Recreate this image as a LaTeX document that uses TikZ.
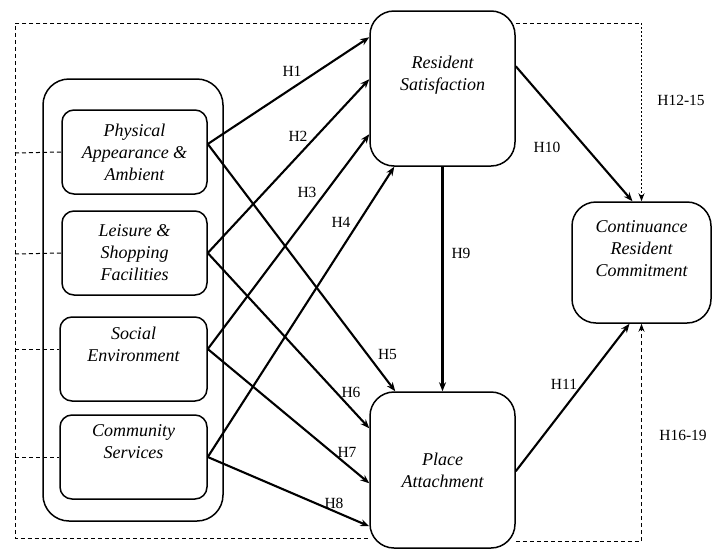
\documentclass[tikz,border=0pt]{standalone}
\usepackage{fontspec}
\setmainfont{Liberation Serif}
\usetikzlibrary{arrows.meta,calc}
\begin{document}
\begin{tikzpicture}[x=1pt,y=-1pt,
 box/.style={draw,line width=1.5pt,rounded corners=12pt,align=center,font=\fontsize{18}{22}\selectfont\itshape,inner sep=0pt},
 bigbox/.style={box,rounded corners=24pt},
 arr/.style={line width=2.1pt,-{Stealth[length=9pt,width=7pt]}},
 dsh/.style={line width=1pt,dash pattern=on 4pt off 3pt},
 dshf/.style={line width=1pt,dash pattern=on 2pt off 2pt},
 darr/.style={-{Stealth[length=8pt,width=6pt]}},
 hl/.style={font=\fontsize{15.5}{18}\selectfont,inner sep=0pt}]
\useasboundingbox (0,0) rectangle (712,552);
% group box
\node[draw,line width=1.5pt,rounded corners=26pt,minimum width=180pt,minimum height=442pt] (grp) at (133,300) {};
% antecedents
\node[box,minimum width=145pt,minimum height=84pt] (paa) at (134.5,152) {Physical\\Appearance \&\\Ambient};
\node[box,minimum width=145pt,minimum height=84pt] (lsf) at (134.5,253) {Leisure \&\\Shopping\\Facilities};
\node[box,minimum width=147pt,minimum height=84pt] (se) at (133.5,359) {Social\\Environment\\[8pt]};
\node[box,minimum width=147pt,minimum height=84pt] (cs) at (133.5,457) {Community\\Services\\[8pt]};
% mediators / outcome
\node[bigbox,minimum width=145pt,minimum height=155pt] (rs) at (442.5,88.5) {Resident\\Satisfaction\\[8pt]};
\node[bigbox,minimum width=145pt,minimum height=156pt] (pa) at (442.5,470) {Place\\Attachment};
\node[bigbox,minimum width=139pt,minimum height=121pt] (crc) at (641.5,262.5) {Continuance\\Resident\\Commitment\\[6pt]};
% ports
\coordinate (pP) at ($(paa.east)+(0,-8)$);
\coordinate (pS) at ($(se.east)+(0,-10)$);
% hypotheses H1-H8
\draw[arr] (pP) -- ($(rs.north west)+(0,27)$);
\draw[arr] (lsf.east) -- ($(rs.north west)+(0,69)$);
\draw[arr] (pS) -- ($(rs.north west)+(0,124)$);
\draw[arr] (cs.east) -- ($(rs.south west)+(25,0)$);
\draw[arr] (pP) -- ($(pa.north west)+(26,0)$);
\draw[arr] (lsf.east) -- ($(pa.north west)+(0,37)$);
\draw[arr] (pS) -- ($(pa.north west)+(0,92)$);
\draw[arr] (cs.east) -- ($(pa.north west)+(0,135)$);
% H9-H11
\draw[arr] (rs.south) -- (pa.north);
\draw[arr] ($(rs.north east)+(0,56)$) -- ($(crc.north)+(-9,0)$);
\draw[arr] ($(pa.north east)+(0,80)$) -- ($(crc.south)+(-12,0)$);
% dashed frame
\coordinate (ftl) at (15,23);
\coordinate (fbl) at (15,538);
\coordinate (fbr) at (642,541);
\draw[dsh] (rs.west |- ftl) -- (ftl) -- (fbl) -- (pa.west |- fbl);
\draw[dsh] (15,153) -- (paa.west);
\draw[dsh] (15,254) -- (paa.west |- lsf.east);
\draw[dsh] (15,349) -- (se.west |- pS);
\draw[dsh] (15,457) -- (cs.west);
\draw[dsh] (rs.east |- ftl) -- (crc.north |- ftl);
\draw[dshf,darr] (crc.north |- ftl) -- (crc.north);
\draw[dsh] (pa.east |- fbr) -- (crc.south |- fbr);
\draw[dsh,darr] (crc.south |- fbr) -- (crc.south);
% labels
\node[hl] (h1) at (292,71) {H1};
\node[hl] (h2) at (298,136) {H2};
\node[hl] (h3) at (307,192) {H3};
\node[hl] (h4) at (341,222) {H4};
\node[hl] (h5) at (387.5,354) {H5};
\node[hl] (h6) at (351,392) {H6};
\node[hl] (h7) at (347,452) {H7};
\node[hl] (h8) at (334,503) {H8};
\node[hl] (h9) at (461,253) {H9};
\node[hl] (h10) at (547,147) {H10};
\node[hl] (h11) at (564,384) {H11};
\node[hl] (h1215) at (681,100) {H12-15};
\node[hl] (h1619) at (683,435) {H16-19};
\end{tikzpicture}
\end{document}
